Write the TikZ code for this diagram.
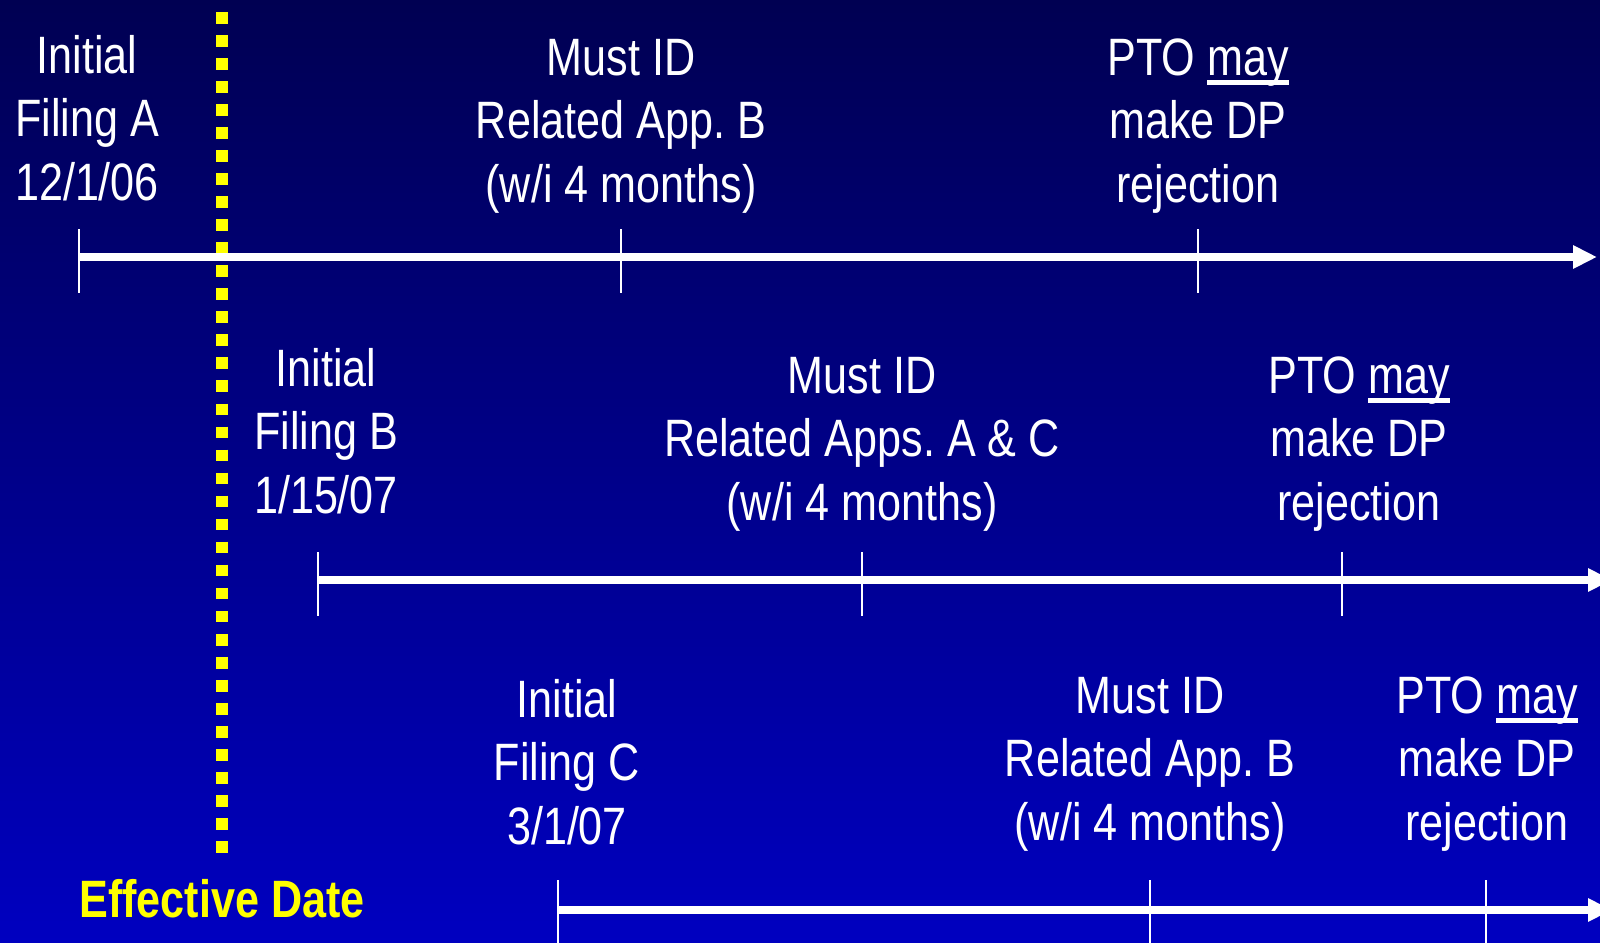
\documentclass[tikz,border=0pt]{standalone}
\usepackage{fontspec}
\setmainfont{Liberation Sans}[FakeStretch=0.82]
\usetikzlibrary{arrows.meta}
\frenchspacing
\definecolor{bgtop}{RGB}{0,0,82}
\definecolor{bgbot}{RGB}{0,0,192}
\definecolor{effyellow}{RGB}{255,255,0}
\newcommand\myul[1]{\setbox0\hbox{#1}\rlap{\rule[-5pt]{\wd0}{2.4pt}}#1}
\tikzset{
  lbl/.style={text=white, align=center, inner sep=0pt, anchor=base,
    font=\fontsize{26.3}{31.75}\selectfont\frenchspacing},
  effline/.style={draw=effyellow, line width=6.15pt, dash pattern=on 5.85pt off 5.665pt},
  axisline/.style={draw=white, line width=3.6pt, -{Triangle[length=12pt,width=11pt]}},
  tickline/.style={draw=white, line width=1.3pt},
  efflbl/.style={text=effyellow, inner sep=0pt, anchor=base,
    font=\fontsize{26.3}{31.75}\selectfont\bfseries}
}
\begin{document}
\begin{tikzpicture}[x=0.5pt,y=-0.5pt]
\useasboundingbox (0,0) rectangle (1600,942);
\clip (0,0) rectangle (1600,942);
\shade[top color=bgtop, bottom color=bgbot] (0,0) rectangle (1600,942);

% effective date line
\coordinate (ed1) at (222,12);
\coordinate (ed2) at (222,852.7);
\draw[effline] (ed1) -- (ed2);
\node[efflbl] (efflabel) at (222,917) {Effective Date};

% row 1
\coordinate (r1s) at (79,257);
\coordinate (r1e) at (1597,257);
\coordinate (r1m) at (621,257);
\coordinate (r1p) at (1198,257);
\draw[axisline] (r1s) -- (r1e);
\foreach \c in {r1s,r1m,r1p} \draw[tickline] (\c) ++(0,-28) -- ++(0,64);
\node[lbl] (fa) at (87,200) {Initial\\Filing A\\12/1/06};
\node[lbl] (ma) at (621,202) {Must ID\\Related App. B\\(w/i 4 months)};
\node[lbl] (pa) at (1198,202) {PTO \myul{may}\\make DP\\rejection};

% row 2
\coordinate (r2s) at (318,580);
\coordinate (r2e) at (1612,580);
\coordinate (r2m) at (862,580);
\coordinate (r2p) at (1342,580);
\draw[axisline] (r2s) -- (r2e);
\foreach \c in {r2s,r2m,r2p} \draw[tickline] (\c) ++(0,-28) -- ++(0,64);
\node[lbl] (fb) at (326,513) {Initial\\Filing B\\1/15/07};
\node[lbl] (mb) at (862,520) {Must ID\\Related Apps. A \& C\\(w/i 4 months)};
\node[lbl] (pb) at (1359,520) {PTO \myul{may}\\make DP\\rejection};

% row 3
\coordinate (r3s) at (558,910);
\coordinate (r3e) at (1612,910);
\coordinate (r3m) at (1150,910);
\coordinate (r3p) at (1486,910);
\draw[axisline] (r3s) -- (r3e);
\foreach \c in {r3s,r3m,r3p} \draw[tickline] (\c) ++(0,-30) -- ++(0,70);
\node[lbl] (fc) at (567,844) {Initial\\Filing C\\3/1/07};
\node[lbl] (mc) at (1150,840) {Must ID\\Related App. B\\(w/i 4 months)};
\node[lbl] (pc) at (1487,840) {PTO \myul{may}\\make DP\\rejection};
\end{tikzpicture}
\end{document}
